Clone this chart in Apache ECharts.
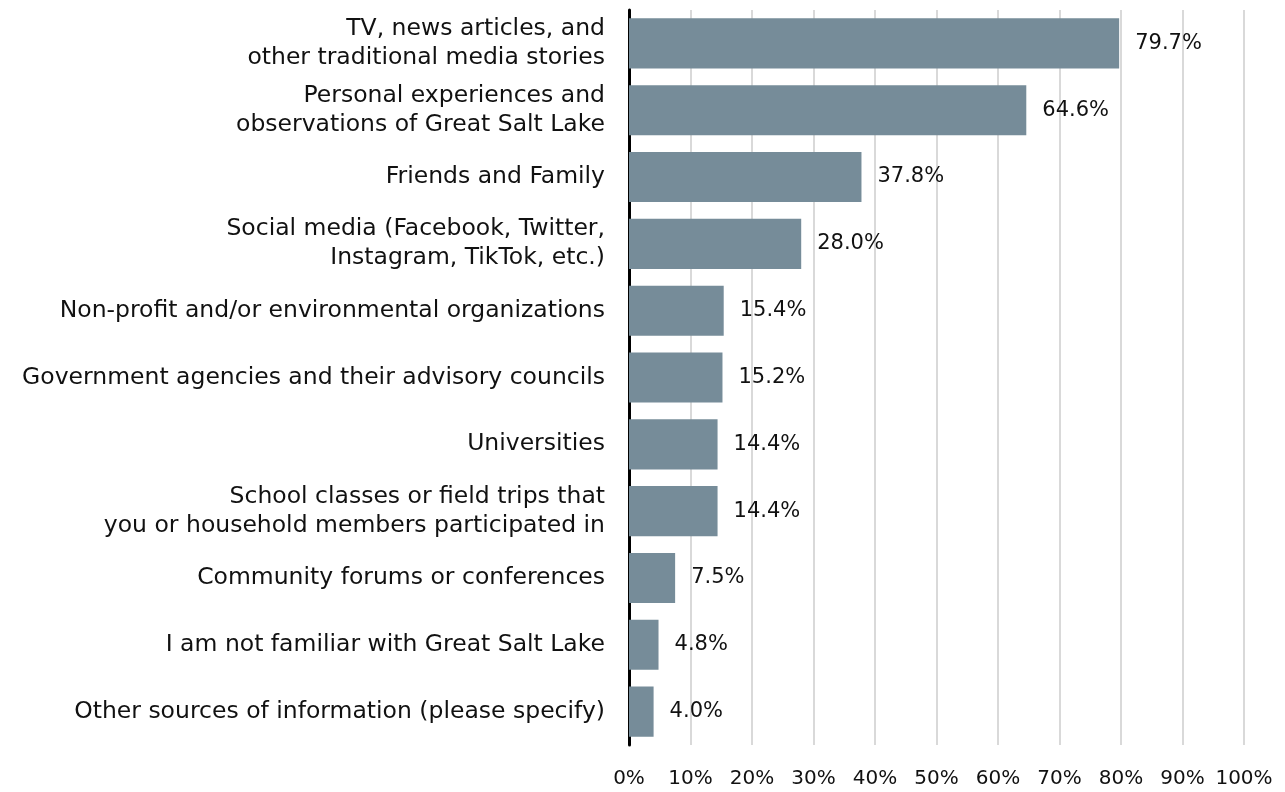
<!DOCTYPE html>
<html>
<head>
<meta charset="utf-8">
<script src="https://cdn.jsdelivr.net/npm/echarts@6/dist/echarts.min.js"></script>
<style>
  html, body { margin: 0; padding: 0; background: #ffffff; }
  #chart { width: 1285px; height: 792px; }
</style>
</head>
<body>
<div id="chart"></div>
<script>
// Sources of information about Great Salt Lake (share of respondents)
const categories = [
  'TV, news articles, and\nother traditional media stories',
  'Personal experiences and\nobservations of Great Salt Lake',
  'Friends and Family',
  'Social media (Facebook, Twitter,\nInstagram, TikTok, etc.)',
  'Non-profit and/or environmental organizations',
  'Government agencies and their advisory councils',
  'Universities',
  'School classes or field trips that\nyou or household members participated in',
  'Community forums or conferences',
  'I am not familiar with Great Salt Lake',
  'Other sources of information (please specify)'
];
const shares = [79.7, 64.6, 37.8, 28.0, 15.4, 15.2, 14.4, 14.4, 7.5, 4.8, 4.0];
const tickValues = [0, 10, 20, 30, 40, 50, 60, 70, 80, 90, 100];

const FONT = '"DejaVu Sans", sans-serif';
const chart = echarts.init(document.getElementById('chart'));
chart.setOption({
  animation: false,
  grid: { left: 629, right: 41, top: 10, bottom: 47, containLabel: false },
  xAxis: {
    type: 'value',
    min: tickValues[0],
    max: tickValues[tickValues.length - 1],
    interval: 10,
    axisLine: { show: false },
    axisTick: { show: false },
    axisLabel: {
      formatter: v => v + '%',
      color: '#111',
      fontFamily: FONT,
      fontSize: 20,
      margin: 24
    },
    splitLine: { show: true, lineStyle: { color: '#d9d9d9', width: 2 } }
  },
  yAxis: {
    type: 'category',
    data: categories,
    inverse: true,
    axisLine: { show: true, lineStyle: { color: '#000', width: 3 } },
    axisTick: { show: false },
    axisLabel: {
      color: '#111',
      fontFamily: FONT,
      fontSize: 23.5,
      lineHeight: 29,
      margin: 24,
      align: 'right'
    }
  },
  series: [{
    type: 'bar',
    data: shares,
    barCategoryGap: '25%',
    itemStyle: { color: '#768c99' },
    label: {
      show: true,
      position: 'right',
      distance: 16,
      formatter: p => p.value.toFixed(1) + '%',
      color: '#111',
      fontFamily: FONT,
      fontSize: 21
    }
  }]
});
</script>
</body>
</html>
